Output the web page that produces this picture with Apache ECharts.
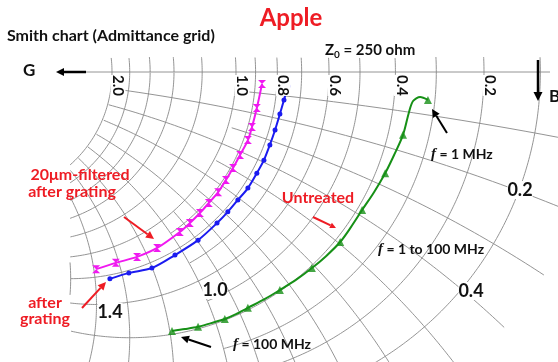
<!DOCTYPE html>
<html><head><meta charset="utf-8">
<script src="https://cdn.jsdelivr.net/npm/echarts@6/dist/echarts.min.js"></script>
<style>html,body{margin:0;padding:0;background:#fff}#c{width:558px;height:362px}</style>
</head><body><div id="c"></div>
<script>
// ---- Normalised admittance grid (Z0 = 250 ohm) ----
// fine lines (0.1 step) only span the inner part of the chart
const gCirclesFine = [0.1,0.3,0.5,0.7,0.9];
const gCircles = [0.2,0.4,0.6,0.8,1.0,1.2,1.4,1.6,1.8,2.0];
const bArcsFine = [0.1,0.3,0.5,0.7,0.9];
const bArcs = [0.2,0.4,0.6,0.8,1.0,1.2,1.4,1.6,1.8,2.0];
const gTickValues = [2.0,1.0,0.8,0.6,0.4,0.2];
const gTickLabels = ['2.0','1.0','0.8','0.6','0.4','0.2'];
const bTickValues = [0.2,0.4,1.0,1.4];
const bTickLabels = ['0.2','0.4','1.0','1.4'];

// ---- Measured reflection coefficients, f = 1 to 100 MHz (real, imaginary) ----
const untreatedRe = [0.516,0.495,0.476,0.465,0.449,0.425,0.401,0.371,0.339,0.309,0.280,0.242,0.204,0.161,0.118,0.078,0.032,0.000,-0.030,-0.067,-0.102,-0.137,-0.172];
const untreatedIm = [-0.075,-0.067,-0.078,-0.108,-0.169,-0.223,-0.272,-0.323,-0.371,-0.417,-0.457,-0.495,-0.527,-0.559,-0.586,-0.610,-0.634,-0.651,-0.664,-0.675,-0.685,-0.691,-0.696];
const untreatedMarked = [0,4,6,8,10,12,14,16,18,20,22];

const gratingRe = [0.140,0.129,0.118,0.105,0.091,0.075,0.056,0.032,0.005,-0.022,-0.051,-0.102,-0.164,-0.226,-0.288,-0.339];
const gratingIm = [-0.038,-0.075,-0.113,-0.156,-0.196,-0.237,-0.272,-0.312,-0.344,-0.376,-0.406,-0.452,-0.492,-0.527,-0.540,-0.556];

const filteredRe = [0.070,0.056,0.043,0.032,0.011,-0.008,-0.027,-0.048,-0.073,-0.097,-0.124,-0.151,-0.212,-0.266,-0.323,-0.376];
const filteredIm = [-0.032,-0.097,-0.148,-0.183,-0.223,-0.258,-0.290,-0.323,-0.352,-0.379,-0.406,-0.430,-0.473,-0.497,-0.513,-0.530];

// ---- plot frame in reflection-coefficient units ----
const SCALE = 372, CX = 236, CY = 72, W = 558, H = 362;
const xMin = -CX / SCALE, xMax = (W - CX) / SCALE;
const yMax = CY / SCALE, yMin = -(H - CY) / SCALE;
const clipLeft = (70 - CX) / SCALE, clipTop = (CY - 57) / SCALE;

function admittance(re, im) {
  const d = (1 + re) * (1 + re) + im * im;
  return [(1 - re * re - im * im) / d, -2 * im / d];
}
function insideGrid(re, im, gMax, bMax) {
  if (re * re + im * im > 1.0001) return false;
  if (re < clipLeft || im > clipTop) return false;
  const y = admittance(re, im);
  if (y[0] > gMax + 1e-3) return false;
  if (y[1] > bMax + 1e-3) return false;
  return true;
}
// sample a circle, keep the visible pieces as separate polylines
function circlePieces(cx, cy, r, gMax, bMax, below) {
  const pieces = []; let cur = [];
  const N = 1440;
  for (let i = 0; i <= N; i++) {
    const t = i / N * Math.PI * 2;
    const re = cx + r * Math.cos(t), im = cy + r * Math.sin(t);
    if (insideGrid(re, im, gMax, bMax) && (!below || im < 0)) cur.push([re, im]);
    else { if (cur.length > 1) pieces.push(cur); cur = []; }
  }
  if (cur.length > 1) pieces.push(cur);
  return pieces;
}

const gridStyle = { color: '#888', width: 0.9 };
const series = [];
function addGridLine(pts) {
  series.push({ type: 'line', data: pts, showSymbol: false, silent: true,
    lineStyle: gridStyle, animation: false, z: 1 });
}
gCirclesFine.forEach(g => circlePieces(-g / (1 + g), 0, 1 / (1 + g), 99, 1, false).forEach(addGridLine));
gCircles.forEach(g => circlePieces(-g / (1 + g), 0, 1 / (1 + g), 99, 99, false).forEach(addGridLine));
bArcsFine.forEach(b => circlePieces(-1, -1 / b, 1 / b, 1, 99, true).forEach(addGridLine));
bArcs.forEach(b => circlePieces(-1, -1 / b, 1 / b, 2, 99, true).forEach(addGridLine));
// real axis
addGridLine([[(83 - CX) / SCALE, 0], [(550 - CX) / SCALE, 0]]);

function zip(a, b) { return a.map((v, i) => [v, b[i]]); }

const green = '#169016', blue = '#1b1bf0', magenta = '#f019f0';
const hourglass = 'path://M0,0 L10,0 L0,10 L10,10 Z';

series.push({ type: 'line', data: zip(untreatedRe, untreatedIm), smooth: 0.3, showSymbol: false,
  lineStyle: { color: green, width: 2 }, z: 5, animation: false });
series.push({ type: 'scatter', data: untreatedMarked.map(i => [untreatedRe[i], untreatedIm[i]]),
  symbol: 'triangle', symbolSize: 8, itemStyle: { color: green }, z: 6, animation: false });

series.push({ type: 'line', data: zip(gratingRe, gratingIm), smooth: 0.3, symbol: 'circle', symbolSize: 5,
  lineStyle: { color: blue, width: 2 }, itemStyle: { color: blue }, z: 5, animation: false });

series.push({ type: 'line', data: zip(filteredRe, filteredIm), smooth: 0.3, symbol: hourglass, symbolSize: 8,
  lineStyle: { color: magenta, width: 2 }, itemStyle: { color: magenta }, z: 5, animation: false });

const chart = echarts.init(document.getElementById('c'), null, { renderer: 'canvas' });
chart.setOption({
  backgroundColor: '#fff',
  animation: false,
  grid: { left: 0, right: 0, top: 0, bottom: 0 },
  xAxis: { type: 'value', min: xMin, max: xMax, show: false },
  yAxis: { type: 'value', min: yMin, max: yMax, show: false },
  series: series
});

// ---- annotations ----
const FONT = 'Lato, "Liberation Sans", sans-serif';
const red = '#ee1c24';
function px(re, im) { return chart.convertToPixel({ gridIndex: 0 }, [re, im]); }
function text(x, y, s, opt) {
  return Object.assign({ type: 'text', x: x, y: y, z: 20, style: Object.assign({
    text: s, fill: '#111', font: 'bold 16px ' + FONT, textAlign: 'left', textVerticalAlign: 'top'
  }, opt || {}) });
}
function arrow(x1, y1, x2, y2, color, w, head) {
  const a = Math.atan2(y2 - y1, x2 - x1), hl = head, hw = head * 0.5;
  const bx = x2 - hl * Math.cos(a), by = y2 - hl * Math.sin(a);
  return [
    { type: 'line', z: 20, shape: { x1: x1, y1: y1, x2: bx, y2: by }, style: { stroke: color, lineWidth: w } },
    { type: 'polygon', z: 20, shape: { points: [[x2, y2],
      [bx + hw * Math.sin(a), by - hw * Math.cos(a)], [bx - hw * Math.sin(a), by + hw * Math.cos(a)]] },
      style: { fill: color } }
  ];
}

const els = [];
els.push(text(291, 18, 'Apple', { fill: red, font: 'bold 24px ' + FONT, textAlign: 'center', textVerticalAlign: 'middle' }));
els.push(text(7, 36, 'Smith chart (Admittance grid)', { font: 'bold 16px ' + FONT, textVerticalAlign: 'middle' }));
els.push({ type: 'text', x: 325, y: 50, z: 20, style: { text: '{z|Z}{s|0}{z| = 250 ohm}',
  textVerticalAlign: 'middle', rich: { z: { font: 'bold 15px ' + FONT, fill: '#111' },
  s: { font: 'bold 10px ' + FONT, fill: '#111', padding: [9, 0, 0, 0] } } } });
els.push(text(23, 71, 'G', { font: 'bold 17px ' + FONT, textVerticalAlign: 'middle' }));
els.push(text(549, 97, 'B', { font: 'bold 17px ' + FONT, textVerticalAlign: 'middle' }));

// G tick labels along the real axis, turned clockwise
gTickValues.forEach((g, i) => {
  const p = px((1 - g) / (1 + g), 0);
  els.push({ type: 'text', x: p[0] + 6, y: 75, rotation: -Math.PI / 2, z: 20,
    style: { text: gTickLabels[i], font: 'bold 15px ' + FONT, fill: '#111',
      textAlign: 'left', textVerticalAlign: 'middle', backgroundColor: '#fff' } });
});
// B labels
const bLabelPos = [[520, 190], [471, 291], [215, 290], [110, 312]];
bTickValues.forEach((b, i) => {
  els.push(text(bLabelPos[i][0], bLabelPos[i][1], bTickLabels[i],
    { font: 'bold 18px ' + FONT, textAlign: 'center', textVerticalAlign: 'middle', backgroundColor: '#fff' }));
});

// frequency notes
const fRich = { i: { font: 'italic bold 15px "Liberation Serif", serif', fill: '#111' },
  n: { font: 'bold 14px ' + FONT, fill: '#111' } };
els.push({ type: 'text', x: 431, y: 154, z: 20, style: { text: '{i|f}{n| = 1 MHz}', rich: fRich, textVerticalAlign: 'middle' } });
els.push({ type: 'text', x: 378, y: 249, z: 20, style: { text: '{i|f}{n| = 1 to 100 MHz}', rich: fRich, textVerticalAlign: 'middle' } });
els.push({ type: 'text', x: 233, y: 344, z: 20, style: { text: '{i|f}{n| = 100 MHz}', rich: fRich, textVerticalAlign: 'middle' } });

els.push(text(318, 198, 'Untreated', { fill: red, textAlign: 'center', textVerticalAlign: 'middle' }));
els.push(text(80, 175, '20\u03bcm-filtered', { fill: red, textAlign: 'center', textVerticalAlign: 'middle' }));
els.push(text(72, 192, 'after grating', { fill: red, textAlign: 'center', textVerticalAlign: 'middle' }));
els.push(text(45, 303, 'after', { fill: red, textAlign: 'center', textVerticalAlign: 'middle' }));
els.push(text(45, 319, 'grating', { fill: red, textAlign: 'center', textVerticalAlign: 'middle' }));

// arrows
els.push(...arrow(86, 72, 56, 72, '#000', 2.5, 8));
els.push(...arrow(538, 60, 538, 101, '#000', 2.5, 9));
els.push(...arrow(447, 133, 432, 109, '#000', 2, 8));
els.push(...arrow(211, 347, 181, 337, '#000', 2, 8));
els.push(...arrow(124, 217, 154, 239, red, 2, 8));
els.push(...arrow(82, 308, 106, 282, red, 2, 8));
els.push(...arrow(313, 217, 336, 228, red, 2, 6));

chart.setOption({ graphic: { elements: els } });
</script></body></html>
